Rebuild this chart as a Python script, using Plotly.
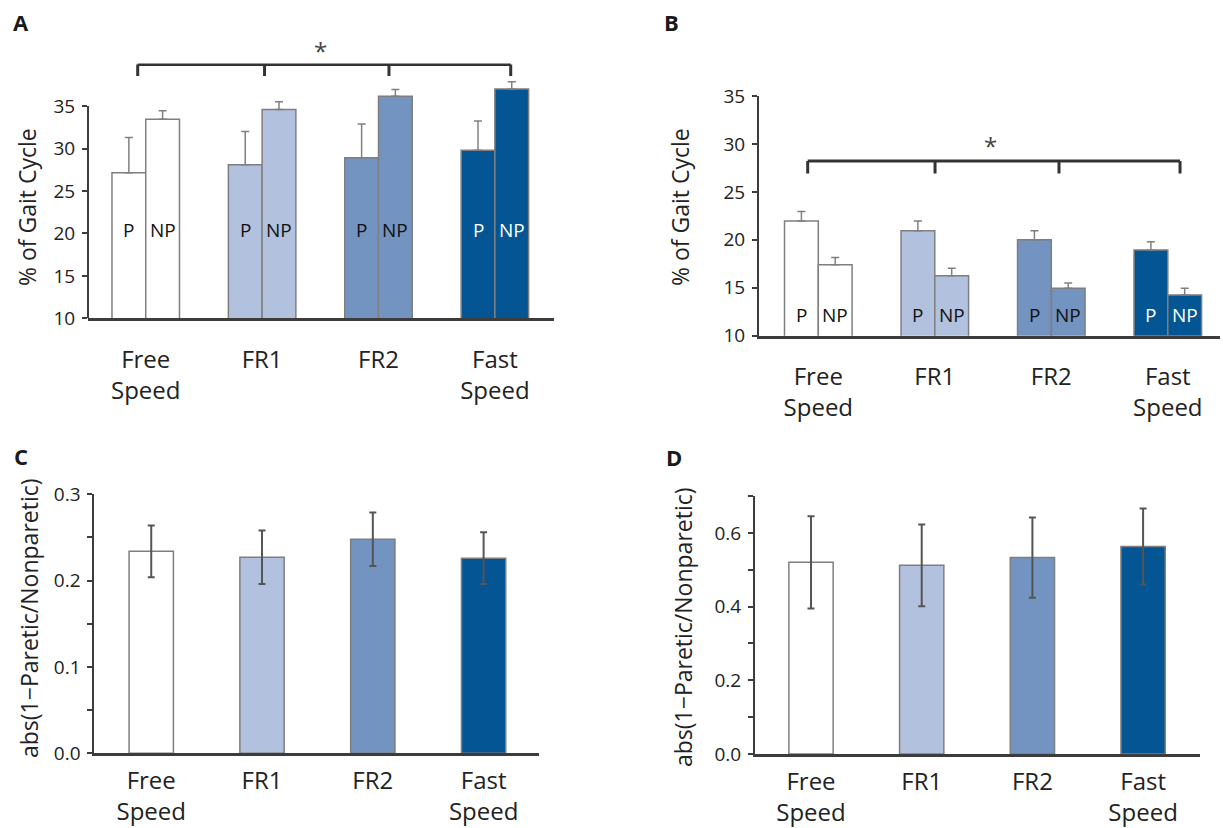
import plotly.graph_objects as go

W, H = 1223, 828
FONT = "Open Sans"

# ---------------- data ----------------
categories = ["Free<br>Speed", "FR1", "FR2", "Fast<br>Speed"]
bar_colors = ["#ffffff", "#b2c1de", "#7393c0", "#035594"]
label_colors = ["#111111", "#111111", "#111111", "#ffffff"]
side_labels = ["P", "NP"]

# Panel A (% of gait cycle)
a_paretic = [27.15, 28.1, 28.9, 29.8]
a_paretic_err = [4.15, 3.9, 4.0, 3.45]
a_nonparetic = [33.45, 34.6, 36.15, 37.0]
a_nonparetic_err = [1.0, 0.9, 0.8, 0.85]

# Panel B (% of gait cycle)
b_paretic = [21.95, 20.95, 20.0, 18.95]
b_paretic_err = [1.0, 1.0, 0.95, 0.85]
b_nonparetic = [17.4, 16.25, 14.95, 14.25]
b_nonparetic_err = [0.75, 0.78, 0.55, 0.7]

# Panel C (asymmetry index)
c_values = [0.234, 0.227, 0.248, 0.226]
c_err = [0.030, 0.031, 0.031, 0.030]

# Panel D (asymmetry index)
d_values = [0.52, 0.512, 0.533, 0.563]
d_err = [0.125, 0.111, 0.109, 0.103]

y_title_ab = "% of Gait Cycle"
y_title_cd = "abs(1\u2212Paretic/Nonparetic)"

# ---------------- helpers ----------------
def px(x):
    return x / W

def py(y):
    return 1 - y / H

AX = "#3c3c3c"
OUT = "#7f7f7f"
positions = list(range(len(categories)))

fig = go.Figure()

def paired(xa, ya, p, perr, n, nerr, w):
    for vals, errs, off in [(p, perr, -w), (n, nerr, 0)]:
        fig.add_trace(go.Bar(
            x=positions, y=vals, xaxis=xa, yaxis=ya, width=w, offset=off,
            marker=dict(color=bar_colors, line=dict(color=OUT, width=1.5)),
            error_y=dict(type="data", array=errs, arrayminus=[0] * len(errs), symmetric=False,
                         color="#808080", thickness=1.5, width=4),
            showlegend=False, hoverinfo="skip"))

def single(xa, ya, v, err, w):
    fig.add_trace(go.Bar(
        x=positions, y=v, xaxis=xa, yaxis=ya, width=w,
        marker=dict(color=bar_colors, line=dict(color=OUT, width=1.5)),
        error_y=dict(type="data", array=err, color="#555555", thickness=2, width=3.5),
        showlegend=False, hoverinfo="skip"))

BW = 0.29
paired("x", "y", a_paretic, a_paretic_err, a_nonparetic, a_nonparetic_err, BW)
paired("x2", "y2", b_paretic, b_paretic_err, b_nonparetic, b_nonparetic_err, BW)
single("x3", "y3", c_values, c_err, 0.4)
single("x4", "y4", d_values, d_err, 0.4)

annotations = []
shapes = []

# P / NP labels inside the paired bars
def pn_labels(xr, yr, yval):
    for i in positions:
        for j, lab in enumerate(side_labels):
            xc = i - BW / 2 if j == 0 else i + BW / 2
            annotations.append(dict(x=xc, y=yval, xref=xr, yref=yr, text=lab, showarrow=False,
                                    font=dict(family=FONT, size=19, color=label_colors[i]),
                                    xanchor="center", yanchor="middle"))

pn_labels("x", "y", 20.4)
pn_labels("x2", "y2", 12.2)

# significance brackets
def bracket(xr, yr, ticks_x, y_top, y_bot, star_x, star_ypx):
    shapes.append(dict(type="line", xref=xr, yref=yr, x0=ticks_x[0], x1=ticks_x[-1],
                       y0=y_top, y1=y_top, line=dict(color="#333333", width=3)))
    for t in ticks_x:
        shapes.append(dict(type="line", xref=xr, yref=yr, x0=t, x1=t, y0=y_top, y1=y_bot,
                           line=dict(color="#333333", width=3)))
    annotations.append(dict(x=star_x, y=py(star_ypx), xref=xr, yref="paper", text="*",
                            showarrow=False, font=dict(family=FONT, size=24, color="#444444"),
                            xanchor="center", yanchor="middle"))

bracket("x", "y", [-0.069, 1.021, 2.09, 3.136], 39.9, 38.55, 1.503, 50)
bracket("x2", "y2", [-0.091, 1.002, 2.066, 3.105], 28.22, 26.93, 1.478, 145)

# y-axis line for panel A only spans 10..35
shapes.append(dict(type="line", xref="x domain", yref="y", x0=0, x1=0, y0=10, y1=35,
                   line=dict(color=AX, width=2)))

# panel letters
for lab, xx, yy in [("A", 21, 22), ("B", 672, 22), ("C", 21, 456), ("D", 674, 457)]:
    annotations.append(dict(x=px(xx), y=py(yy), xref="paper", yref="paper", text="<b>%s</b>" % lab,
                            showarrow=False, font=dict(family=FONT, size=22, color="#1a1a1a"),
                            xanchor="center", yanchor="middle"))

# y-axis titles
for txt, xx, yy in [(y_title_ab, 27, 207), (y_title_ab, 680, 207),
                    (y_title_cd, 29, 618), (y_title_cd, 683, 627)]:
    annotations.append(dict(x=px(xx), y=py(yy), xref="paper", yref="paper", text=txt,
                            textangle=-90, showarrow=False,
                            font=dict(family=FONT, size=23, color="#222222"),
                            xanchor="center", yanchor="middle"))

tickfont = dict(family=FONT, size=19, color="#222222")
catfont = dict(family=FONT, size=24, color="#222222")

def xaxis(dom, rng, standoff):
    return dict(domain=[px(dom[0]), px(dom[1])], range=rng, showline=True, linecolor=AX,
                linewidth=2.5, tickvals=positions, ticktext=categories, ticks="",
                tickfont=catfont, showgrid=False, zeroline=False, fixedrange=True,
                ticklabelstandoff=standoff, automargin=False)

def yaxis(dom, rng, tickvals, ticktext, showline=True):
    return dict(domain=[py(dom[1]), py(dom[0])], range=rng, showline=showline, linecolor=AX,
                linewidth=2, ticks="outside", ticklen=5, tickwidth=1.5, tickcolor=AX,
                tickvals=tickvals, ticktext=ticktext, tickfont=tickfont, showgrid=False,
                zeroline=False, fixedrange=True, ticklabelstandoff=3, automargin=False)

a_ticks = [10, 15, 20, 25, 30, 35]
c_ticks = [0, 0.05, 0.1, 0.15, 0.2, 0.25, 0.3]
c_text = ["0.0", "", "0.1", "", "0.2", "", "0.3"]
d_ticks = [0, 0.1, 0.2, 0.3, 0.4, 0.5, 0.6, 0.7]
d_text = ["0.0", "", "0.2", "", "0.4", "", "0.6", ""]

fig.update_layout(
    template="none",
    width=W, height=H, margin=dict(l=0, r=0, t=0, b=0, pad=0),
    paper_bgcolor="white", plot_bgcolor="white", barmode="overlay",
    font=dict(family=FONT), showlegend=False, hovermode=False,
    xaxis=dict(xaxis((88, 554), [-0.496, 3.508], 18), anchor="y"),
    yaxis=dict(yaxis((63.6, 318.3), [10, 40], a_ticks, [str(t) for t in a_ticks], showline=False), anchor="x"),
    xaxis2=dict(xaxis((759, 1220), [-0.509, 3.448], 18), anchor="y2"),
    yaxis2=dict(yaxis((96, 335.7), [10, 35], a_ticks, [str(t) for t in a_ticks]), anchor="x2"),
    xaxis3=dict(xaxis((94.3, 539), [-0.514, 3.5], 4), anchor="y3"),
    yaxis3=dict(yaxis((494.3, 753.3), [0, 0.3], c_ticks, c_text), anchor="x3"),
    xaxis4=dict(xaxis((755, 1200), [-0.506, 3.514], 4), anchor="y4"),
    yaxis4=dict(yaxis((496, 754), [0, 0.7], d_ticks, d_text), anchor="x4"),
    annotations=annotations, shapes=shapes,
)

fig.write_html("out.html", config={"displayModeBar": False},
               post_script="document.body.style.margin='0';document.body.style.overflow='hidden';")
